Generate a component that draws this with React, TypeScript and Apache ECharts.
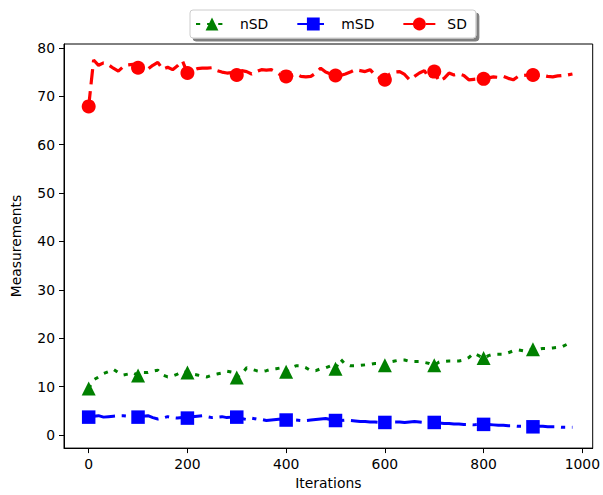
import React, { useEffect, useRef } from "react";
import * as echarts from "echarts";

// Sampling step of the logged runs (every 10 iterations, 0..980)
const STEP = 10;

const sdValues = [
  67.9, 77.5, 76.4, 76.9, 76.5, 75.8, 75.2, 76.1, 76.5, 76.6,
  75.9, 76.0, 75.6, 76.4, 77.0, 75.6, 76.0, 75.5, 76.3, 77.3,
  74.8, 75.3, 75.7, 75.8, 75.8, 75.9, 75.3, 75.0, 74.8, 74.9,
  74.4, 75.3, 75.1, 74.6, 75.1, 75.5, 75.4, 75.5, 75.0, 74.3,
  74.1, 74.3, 74.6, 74.1, 74.0, 74.1, 74.8, 75.8, 75.0, 74.6,
  74.3, 74.3, 74.6, 75.0, 75.5, 75.3, 75.1, 75.5, 74.4, 73.7,
  73.4, 74.6, 75.0, 75.1, 74.5, 73.4, 74.1, 74.8, 75.3, 73.7,
  75.1, 73.1, 73.7, 74.8, 74.4, 74.6, 74.3, 73.4, 73.5, 73.6,
  73.6, 73.8, 74.0, 73.9, 74.1, 73.7, 73.4, 74.1, 74.3, 74.4,
  74.4, 74.3, 74.3, 74.1, 74.0, 74.2, 74.3, 74.4, 74.6,
];

const nsdValues = [
  9.6, 11.4, 12.0, 12.7, 13.1, 13.6, 12.9, 12.4, 12.6, 12.9,
  12.3, 12.9, 12.9, 13.2, 13.4, 12.4, 12.0, 12.2, 12.6, 13.2,
  12.9, 12.6, 12.4, 12.2, 12.0, 12.4, 12.6, 12.8, 13.2, 13.0,
  11.9, 12.6, 13.9, 13.6, 13.3, 13.1, 13.3, 13.6, 13.7, 13.9,
  13.1, 13.9, 14.3, 14.3, 13.9, 13.3, 13.3, 13.7, 13.9, 14.3,
  13.7, 15.7, 14.6, 14.3, 14.3, 14.4, 14.5, 14.6, 14.8, 14.8,
  14.4, 15.1, 15.3, 15.5, 15.5, 15.2, 15.2, 15.2, 15.0, 14.8,
  14.4, 15.1, 15.2, 15.3, 15.3, 15.3, 15.5, 16.0, 16.9, 16.4,
  15.9, 16.4, 16.7, 16.7, 16.7, 17.0, 17.4, 17.6, 17.4, 17.6,
  17.7, 17.7, 17.9, 17.9, 18.0, 18.1, 18.3, 18.8, 19.1,
];

const msdValues = [
  3.7, 3.9, 4.0, 3.7, 3.8, 3.9, 4.0, 4.0, 3.9, 3.8,
  3.7, 3.9, 4.0, 3.6, 3.3, 3.5, 3.8, 3.6, 3.5, 3.6,
  3.5, 3.8, 3.9, 4.0, 3.8, 3.6, 3.7, 3.8, 3.6, 3.7,
  3.7, 3.4, 3.2, 3.5, 3.3, 3.2, 3.0, 3.1, 3.2, 3.3,
  3.1, 3.2, 3.1, 3.0, 3.0, 3.1, 3.2, 3.3, 3.4, 3.2,
  3.0, 3.0, 3.1, 3.0, 2.9, 2.8, 2.8, 2.7, 2.7, 2.6,
  2.6, 2.6, 2.7, 2.7, 2.6, 2.7, 2.8, 2.7, 2.6, 2.6,
  2.6, 2.5, 2.4, 2.4, 2.3, 2.3, 2.2, 2.2, 2.1, 2.2,
  2.2, 2.2, 2.1, 2.0, 2.0, 1.9, 1.9, 1.8, 1.8, 1.7,
  1.7, 1.8, 1.8, 1.7, 1.7, 1.7, 1.6, 1.6, 1.6,
];

const xTicks = [0, 200, 400, 600, 800, 1000];
const yTicks = [0, 10, 20, 30, 40, 50, 60, 70, 80];

// a marker on every 10th sample (every 100 iterations)
const MARK_EVERY = 10;

const FONT = "DejaVu Sans";
const FONT_SIZE = 13.9;

function pairs(values: number[]) {
  return values.map((v, i) => [i * STEP, v]);
}

function markerSize(size: number) {
  return (_v: unknown, p: { dataIndex: number }) =>
    p.dataIndex % MARK_EVERY === 0 ? size : 0;
}

export default function App() {
  const ref = useRef<HTMLDivElement>(null);

  useEffect(() => {
    if (!ref.current) return;
    const chart = echarts.init(ref.current, undefined, { renderer: "svg" });

    chart.setOption({
      animation: false,
      backgroundColor: "#ffffff",
      grid: {
        left: 64,
        top: 44,
        width: 532,
        height: 405,
        show: true,
        borderColor: "#000",
        borderWidth: 1,
        backgroundColor: "transparent",
      },
      legend: {
        left: 190,
        top: 10,
        orient: "horizontal",
        padding: [7, 9, 7, 5],
        itemWidth: 32,
        itemHeight: 16,
        itemGap: 28,
        backgroundColor: "#fff",
        borderColor: "#cccccc",
        borderWidth: 1,
        borderRadius: 3,
        shadowColor: "rgba(0,0,0,0.5)",
        shadowBlur: 0,
        shadowOffsetX: 3,
        shadowOffsetY: 3,
        textStyle: {
          fontFamily: FONT,
          fontSize: FONT_SIZE,
          color: "#000",
          padding: [0, 0, 0, 7],
        },
        data: ["nSD", "mSD", "SD"],
      },
      xAxis: {
        type: "value",
        min: -50,
        max: 1021,
        name: "Iterations",
        nameLocation: "middle",
        nameGap: 27,
        nameTextStyle: { fontFamily: FONT, fontSize: FONT_SIZE, color: "#000" },
        splitLine: { show: false },
        axisLine: { show: true, onZero: false, lineStyle: { color: "#000", width: 1 } },
        axisTick: {
          show: true,
          length: 5,
          inside: false,
          customValues: xTicks,
          lineStyle: { color: "#000" },
        },
        axisLabel: {
          customValues: xTicks,
          formatter: (v: number) => String(v),
          margin: 9,
          fontFamily: FONT,
          fontSize: FONT_SIZE,
          color: "#000",
        },
      },
      yAxis: {
        type: "value",
        min: -2.7,
        max: 80.8,
        name: "Measurements",
        nameLocation: "middle",
        nameGap: 41,
        nameRotate: 90,
        nameTextStyle: { fontFamily: FONT, fontSize: FONT_SIZE, color: "#000" },
        splitLine: { show: false },
        axisLine: { show: true, onZero: false, lineStyle: { color: "#000", width: 1 } },
        axisTick: {
          show: true,
          length: 5,
          inside: false,
          customValues: yTicks,
          lineStyle: { color: "#000" },
        },
        axisLabel: {
          customValues: yTicks,
          formatter: (v: number) => String(v),
          margin: 9,
          fontFamily: FONT,
          fontSize: FONT_SIZE,
          color: "#000",
        },
      },
      series: [
        {
          name: "nSD",
          type: "line",
          data: pairs(nsdValues),
          symbol: "triangle",
          symbolSize: markerSize(14),
          showAllSymbol: true,
          color: "#008000",
          itemStyle: { color: "#008000" },
          lineStyle: { color: "#008000", width: 3, type: [4.2, 6.9], cap: "butt" },
          z: 2,
        },
        {
          name: "mSD",
          type: "line",
          data: pairs(msdValues),
          symbol: "rect",
          symbolSize: markerSize(13.5),
          showAllSymbol: true,
          color: "#0000ff",
          itemStyle: { color: "#0000ff" },
          lineStyle: { color: "#0000ff", width: 3, type: [26.7, 6.7, 4.2, 6.7], cap: "butt" },
          z: 3,
        },
        {
          name: "SD",
          type: "line",
          data: pairs(sdValues),
          symbol: "circle",
          symbolSize: markerSize(14),
          showAllSymbol: true,
          color: "#ff0000",
          itemStyle: { color: "#ff0000" },
          lineStyle: { color: "#ff0000", width: 3.2, type: [15.4, 6.7], cap: "butt" },
          z: 4,
        },
      ],
    });

    return () => chart.dispose();
  }, []);

  return (
    <div
      ref={ref}
      style={{ position: "absolute", left: 0, top: 0, width: 603, height: 495 }}
    />
  );
}
